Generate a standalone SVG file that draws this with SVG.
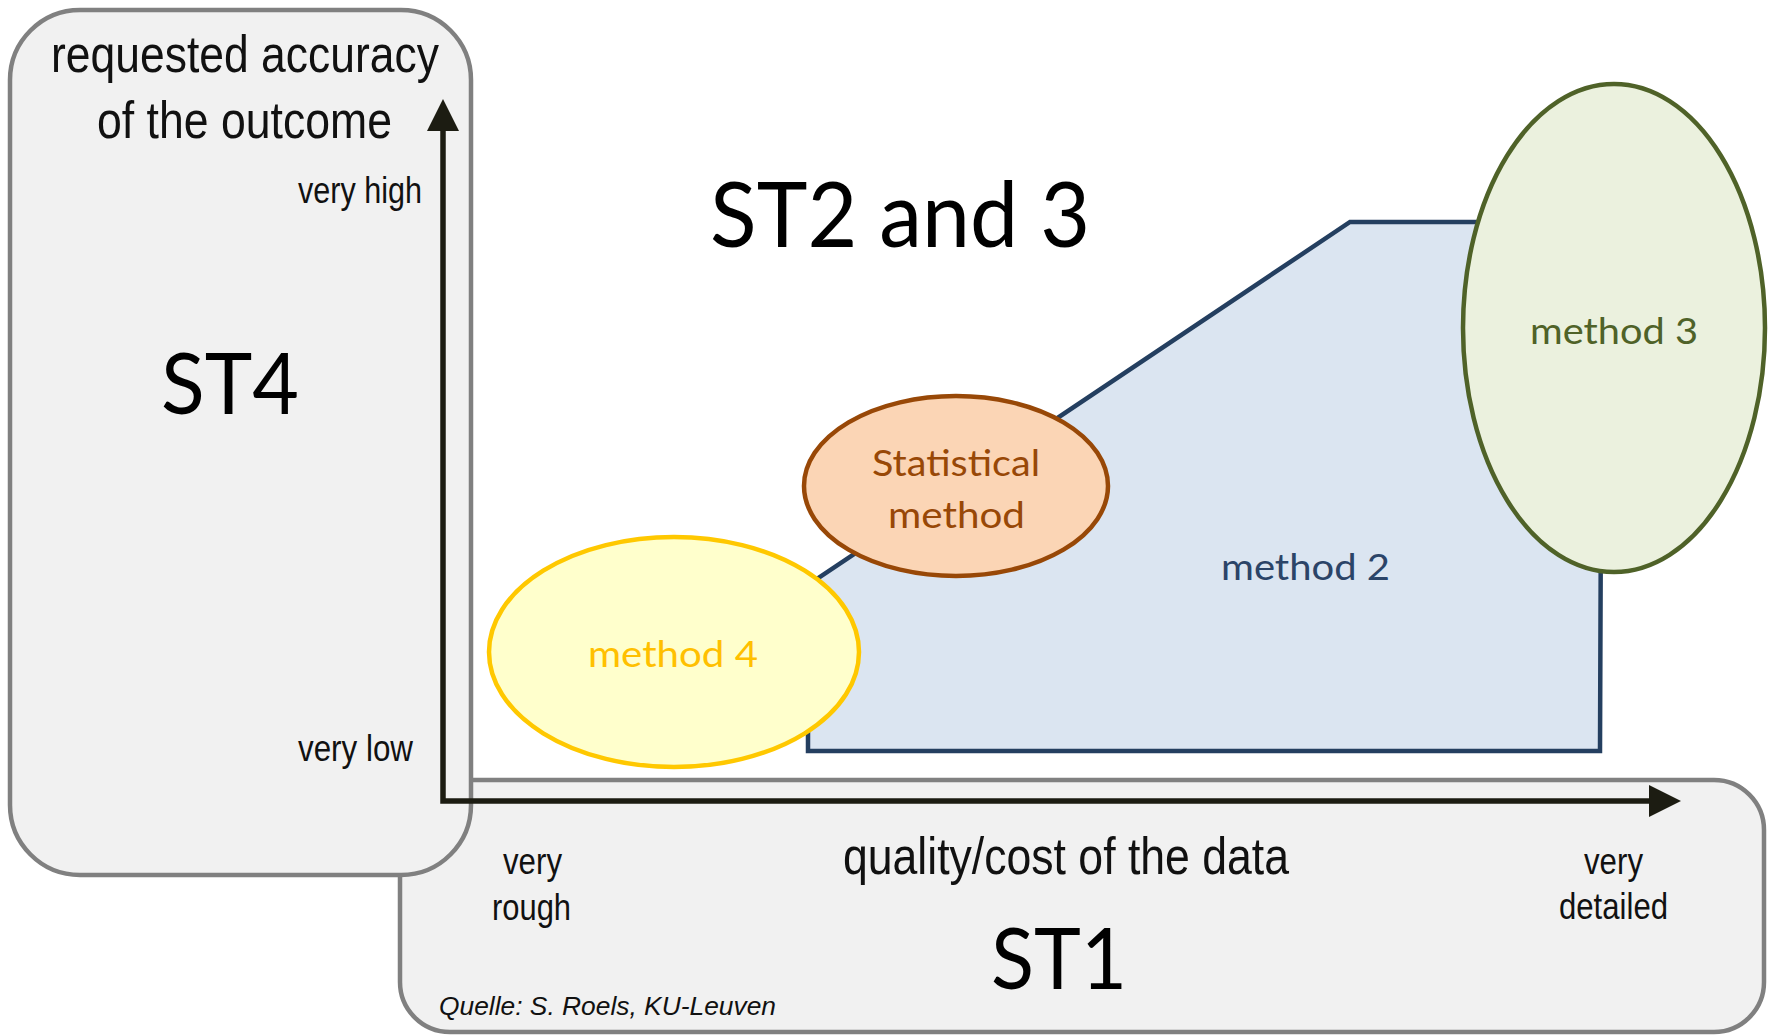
<svg xmlns="http://www.w3.org/2000/svg" width="1774" height="1036" viewBox="0 0 1774 1036">
  <style>
    .box { fill: #f1f1f1; stroke: #808080; stroke-width: 4.5; }
    .ar { font-family: "Liberation Sans", Arial, sans-serif; fill: #111111; }
    .cal { font-family: Lato, "Open Sans", sans-serif; }
    .axis { fill: none; stroke: #1c1c12; stroke-width: 5.5; stroke-linejoin: miter; }
  </style>
  <defs>
    <marker id="arrow" markerUnits="userSpaceOnUse" viewBox="0 0 32 32" markerWidth="32" markerHeight="32" refX="0" refY="16" orient="auto-start-reverse">
      <path d="M0,0 L32,16 L0,32 z" fill="#1c1c12"/>
    </marker>
  </defs>
  <rect width="1774" height="1036" fill="#ffffff"/>

  <g id="st1">
    <rect class="box" x="400" y="780" width="1364" height="252" rx="50" ry="50"/>
    <text class="ar" x="843" y="874" font-size="52" textLength="446" lengthAdjust="spacingAndGlyphs">quality/cost of the data</text>
    <text class="ar" x="503" y="874" font-size="36" textLength="59" lengthAdjust="spacingAndGlyphs">very</text>
    <text class="ar" x="492" y="920" font-size="36" textLength="79" lengthAdjust="spacingAndGlyphs">rough</text>
    <text class="ar" x="1584" y="874" font-size="36" textLength="59" lengthAdjust="spacingAndGlyphs">very</text>
    <text class="ar" x="1559" y="919" font-size="36" textLength="109" lengthAdjust="spacingAndGlyphs">detailed</text>
    <text class="cal" x="991" y="989" font-size="86" fill="#000000" textLength="136" lengthAdjust="spacingAndGlyphs">ST1</text>
    <text class="ar" x="439" y="1015" font-size="26" font-style="italic" textLength="337" lengthAdjust="spacingAndGlyphs">Quelle: S. Roels, KU-Leuven</text>
  </g>

  <g id="st4">
    <rect class="box" x="10" y="10" width="461" height="865" rx="70" ry="70"/>
    <text class="ar" x="51" y="72" font-size="52" textLength="388" lengthAdjust="spacingAndGlyphs">requested accuracy</text>
    <text class="ar" x="97" y="138" font-size="52" textLength="295" lengthAdjust="spacingAndGlyphs">of the outcome</text>
    <text class="ar" x="298" y="203" font-size="36" textLength="124" lengthAdjust="spacingAndGlyphs">very high</text>
    <text class="ar" x="298" y="761" font-size="36" textLength="115" lengthAdjust="spacingAndGlyphs">very low</text>
    <text class="cal" x="161" y="414" font-size="86" fill="#000000" textLength="138" lengthAdjust="spacingAndGlyphs">ST4</text>
  </g>

  <g id="title">
    <text class="cal" x="710" y="247" font-size="92" fill="#000000" textLength="380" lengthAdjust="spacingAndGlyphs">ST2 and 3</text>
  </g>

  <g id="method2">
    <polygon points="808,751 808,585 1350,222 1602,222 1600,751" fill="#dbe5f1" stroke="#243f60" stroke-width="4.5" stroke-linejoin="miter"/>
    <text class="cal" x="1221" y="580" font-size="37" fill="#2b4468" textLength="169" lengthAdjust="spacingAndGlyphs">method 2</text>
  </g>

  <g id="method4">
    <ellipse cx="674" cy="652" rx="185" ry="115" fill="#ffffcc" stroke="#ffc800" stroke-width="4.5"/>
    <text class="cal" x="588" y="667" font-size="37" fill="#ffc000" textLength="170" lengthAdjust="spacingAndGlyphs">method 4</text>
  </g>

  <g id="statistical">
    <ellipse cx="956" cy="486" rx="152" ry="90" fill="#fbd5b5" stroke="#984807" stroke-width="4.5"/>
    <text class="cal" x="872" y="476" font-size="37" fill="#984807" textLength="168" lengthAdjust="spacingAndGlyphs">Statistical</text>
    <text class="cal" x="888" y="528" font-size="37" fill="#984807" textLength="137" lengthAdjust="spacingAndGlyphs">method</text>
  </g>

  <g id="method3">
    <ellipse cx="1614" cy="328" rx="151" ry="244" fill="#ebf1de" stroke="#4f6228" stroke-width="4.5"/>
    <text class="cal" x="1530" y="344" font-size="37" fill="#4f6228" textLength="168" lengthAdjust="spacingAndGlyphs">method 3</text>
  </g>

  <g id="connectors">
    <path class="axis" d="M443,131 V801 H1649" marker-start="url(#arrow)" marker-end="url(#arrow)"/>
  </g>
</svg>
